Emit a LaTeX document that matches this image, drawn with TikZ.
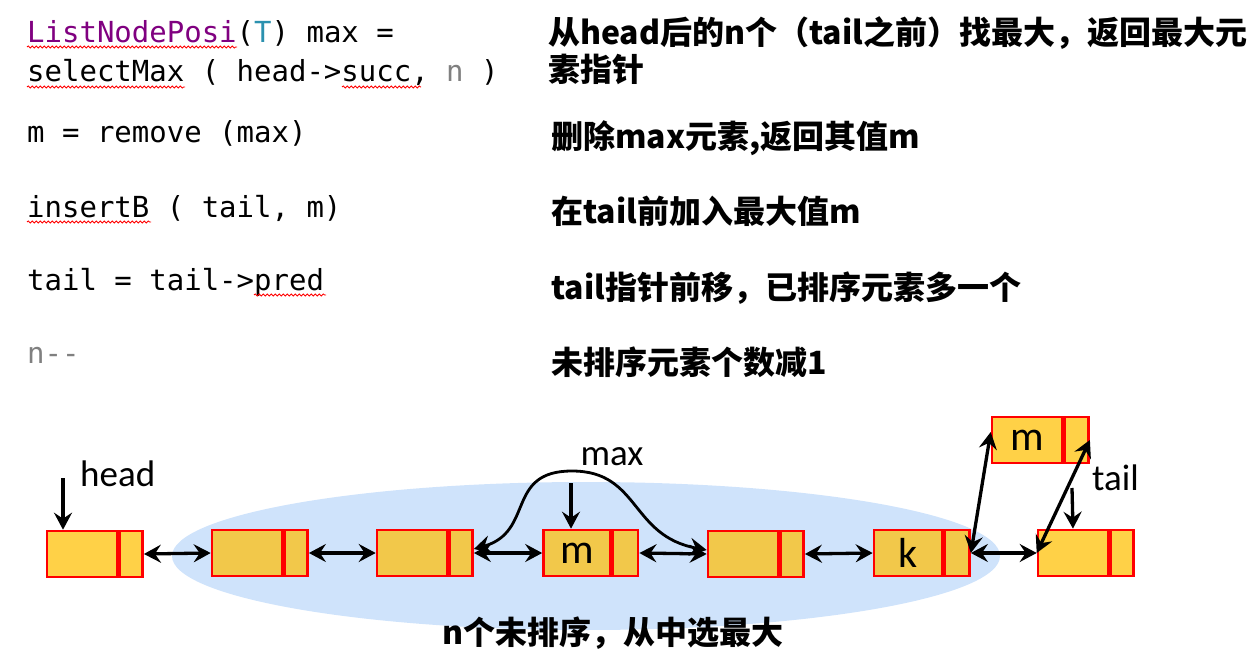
\documentclass[tikz,border=0pt]{standalone}
\usepackage{fontspec}
\setmonofont{DejaVu Sans Mono}
\newfontfamily\cjk{Noto Sans CJK SC}
\newfontfamily\lab{Carlito}
\usetikzlibrary{arrows.meta,decorations.pathmorphing}
\definecolor{ellblue}{HTML}{CFE3FB}
\definecolor{goldin}{HTML}{F2C84A}
\definecolor{goldout}{HTML}{FFD147}
\definecolor{redb}{HTML}{FF0000}
\definecolor{kwpurple}{HTML}{800080}
\definecolor{kwteal}{HTML}{2B91AF}
\definecolor{kwgray}{HTML}{808080}
\tikzset{
  cell/.style={draw=redb, line width=2.6pt, inner sep=0pt, minimum height=46pt},
  mainc/.style={cell, minimum width=70pt},
  smallc/.style={cell, minimum width=23pt, anchor=west},
  tip/.tip={Stealth[length=17pt,width=18pt,inset=6pt]},
  dbl/.style={tip-tip, line width=3.3pt},
  sgl/.style={-tip, line width=3.3pt},
  code/.style={anchor=base west, inner sep=0pt, font=\ttfamily\fontsize{29}{35}\selectfont},
  desc/.style={anchor=base west, inner sep=0pt, font=\cjk\bfseries\fontsize{32}{38}\selectfont},
  lbl/.style={inner sep=0pt, font=\lab\fontsize{37}{40}\selectfont},
  cellab/.style={inner sep=0pt, font=\lab\fontsize{42}{44}\selectfont},
  squig/.style={draw=redb, line width=0.8pt, decorate, decoration={snake, amplitude=1.1pt, segment length=4pt}}
}
\begin{document}
\begin{tikzpicture}[x=1pt,y=-1pt]
\useasboundingbox (0,0) rectangle (1253,660);
% code column
\node[code] (c1) at (27,43) {\textcolor{kwpurple}{ListNodePosi}(\textcolor{kwteal}{T}) max =};
\node[code] (c2) at (27,82) {selectMax ( head->succ, \textcolor{kwgray}{n} )};
\node[code] (c3) at (27,143) {m = remove (max)};
\node[code] (c4) at (27,218) {insertB ( tail, m)};
\node[code] (c5) at (27,291) {tail = tail->pred};
\node[code] (c6) at (27,363) {\textcolor{kwgray}{n-\kern0pt-}};
\draw[squig] (27,47) -- (237,47);
\draw[squig] (27,87) -- (185,87);
\draw[squig] (342,87) -- (421,87);
\draw[squig] (27,222) -- (151,222);
\draw[squig] (254,295) -- (326,295);
% description column
\node[desc] (d1) at (548,45) {从head后的n个（tail之前）找最大，返回最大元};
\node[desc] (d1b) at (548,82) {素指针};
\node[desc] (d2) at (551,149) {删除max元素,返回其值m};
\node[desc] (d3) at (551,224) {在tail前加入最大值m};
\node[desc] (d4) at (551,300) {tail指针前移，已排序元素多一个};
\node[desc] (d5) at (551,374) {未排序元素个数减1};
% ellipse
\fill[ellblue] (586,556) ellipse [x radius=414, y radius=74];
\node[desc, anchor=base] (cap) at (613,644) {n个未排序，从中选最大};
% list nodes
\node[mainc, fill=goldout] (n1) at (82,554) {};
\node[smallc, fill=goldout] (n1s) at (n1.east) {};
\node[mainc, fill=goldin] (n2) at (247,553) {};
\node[smallc, fill=goldin] (n2s) at (n2.east) {};
\node[mainc, fill=goldin] (n3) at (412,553) {};
\node[smallc, fill=goldin] (n3s) at (n3.east) {};
\node[mainc, fill=goldin, minimum width=67pt] (n4) at (577,553) {};
\node[smallc, fill=goldin, minimum width=25pt] (n4s) at (n4.east) {};
\node[mainc, fill=goldin] (n5) at (743,554) {};
\node[smallc, fill=goldin] (n5s) at (n5.east) {};
\node[mainc, fill=goldin, minimum width=68pt] (n6) at (908,553) {};
\node[smallc, fill=goldin, minimum width=25pt] (n6s) at (n6.east) {};
\node[mainc, fill=goldout] (n7) at (1073,553) {};
\node[smallc, fill=goldout] (n7s) at (n7.east) {};
\node[mainc, fill=goldout] (tm) at (1027,440) {};
\node[smallc, fill=goldout, minimum width=24pt] (tms) at (tm.east) {};
% labels in nodes
\node[cellab] (lm) at (n4) {m};
\node[cellab] (lk) at (n6) {k};
\node[cellab] (ltm) at (tm) {m};
% pointer labels
\node[lbl, anchor=west] (lhead) at (80,474) {head};
\node[lbl] (lmax) at (612,457) {max};
\node[lbl, anchor=west] (ltail) at (1092,478) {tail};
\coordinate (hp) at (63,478);
\coordinate (mp) at (571,483);
\coordinate (tp) at (1072,488);
% connectors
\draw[dbl] (n1s.east) -- (n2.west);
\draw[dbl] (n2s.east) -- (n3.west);
\draw[dbl] (n3s.east) -- (n4.west);
\draw[dbl] (n4s.east) -- (n5.west);
\draw[dbl] (n5s.east) -- (n6.west);
\draw[dbl] (n6s.east) -- (n7.west);
\draw[dbl, line width=2.8pt] ([yshift=4pt]n3s.east) .. controls (535,532) and (505,471) .. (572,471) .. controls (640,471) and (630,536) .. ([yshift=4pt]n5.west);
\draw[dbl] (n6s.east) -- ([yshift=8pt]tm.west);
\draw[dbl] (n7.west) -- (tms.east);
\draw[sgl] (hp) -- (hp |- n1.north);
\draw[sgl] (mp) -- (mp |- n4.north);
\draw[sgl] (tp) -- (n7.north);
\end{tikzpicture}
\end{document}
